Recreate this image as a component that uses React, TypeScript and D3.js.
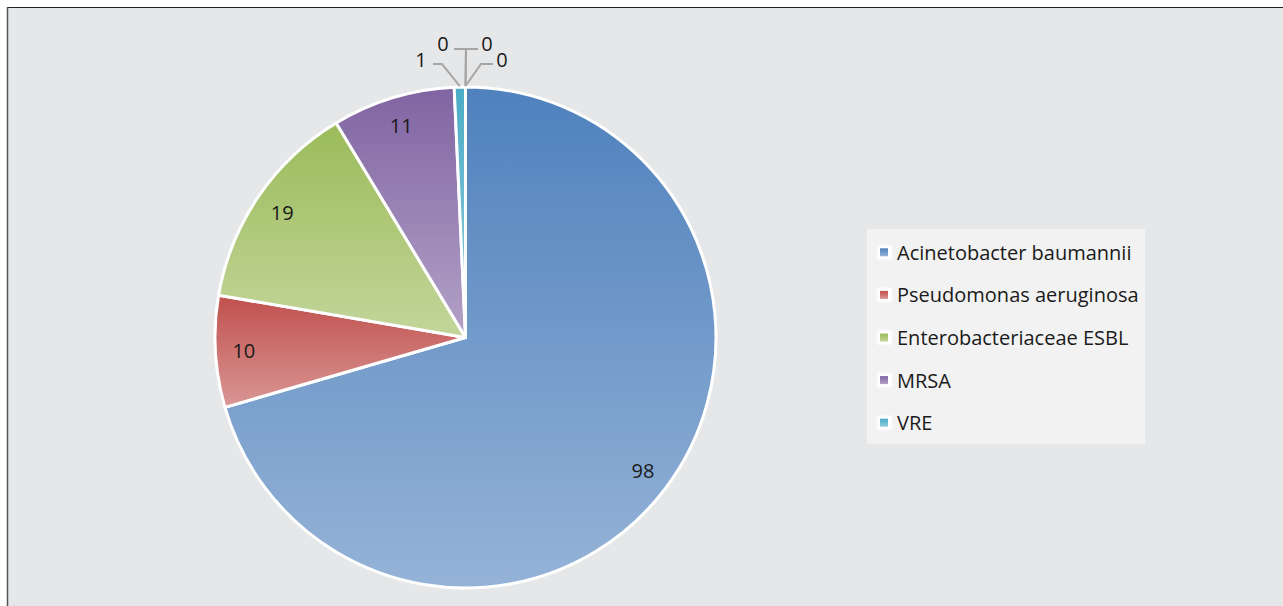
import React from "react";
import * as d3 from "d3";

const categories = [
  "Acinetobacter baumannii",
  "Pseudomonas aeruginosa",
  "Enterobacteriaceae ESBL",
  "MRSA",
  "VRE",
  "",
  "",
  "",
];
const values = [98, 10, 19, 11, 1, 0, 0, 0];
const baseColors = ["#4f81bd", "#c0504d", "#9bbb59", "#8064a2", "#4bacc6", "#f79646", "#2c4d75", "#772c2a"];
const lightColors = ["#95b3d7", "#d99694", "#c3d69b", "#b3a2c7", "#93cddd", "#fac090", "#8eb4e3", "#e6b9b8"];

// placement for labels of slices too thin to hold them (offsets from the pie top)
const outsideLayout = [
  null,
  null,
  null,
  null,
  { lx: -44.5, ly: -27.5, hx: -23.5, hy: -23, ex: -32.5 },
  { lx: -22.5, ly: -44, hx: 0.5, hy: -38, ex: -11.5 },
  { lx: 21.5, ly: -44, hx: 0.5, hy: -38, ex: 12.5 },
  { lx: 36.5, ly: -27.5, hx: 15.5, hy: -23, ex: 27.5 },
];

const W = 1283;
const H = 606;
const cx = 465.5;
const cy = 337.5;
const R = 250.5;
const FONT = "'Open Sans', sans-serif";
const FS = 20;

export default function App() {
  const pie = d3.pie<number>().sort(null).value((d) => d)(values);
  const arc = d3.arc<d3.PieArcDatum<number>>().innerRadius(0).outerRadius(R);
  const labelArc = d3.arc<d3.PieArcDatum<number>>().innerRadius(222).outerRadius(222);

  const legendItems = categories.map((c, i) => ({ c, i })).filter((d) => d.c !== "");
  const legendY = d3.scaleBand<number>().domain(legendItems.map((d) => d.i)).range([231, 444]);

  return (
    <svg
      width={W}
      height={H}
      style={{ position: "absolute", left: 0, top: 0, display: "block" }}
      fontFamily={FONT}
    >
      <defs>
        {values.map((_, i) => (
          <linearGradient key={i} id={`g${i}`} x1="0" y1="0" x2="0" y2="1">
            <stop offset="0" stopColor={baseColors[i]} />
            <stop offset="1" stopColor={lightColors[i]} />
          </linearGradient>
        ))}
        <filter id="glow" x="-50%" y="-50%" width="200%" height="200%">
          <feGaussianBlur stdDeviation="1" />
        </filter>
      </defs>
      <rect x={0} y={0} width={W} height={H} fill="#ffffff" />
      <rect x={7} y={7} width={W} height={H} fill="#e6e7e8" />
      <line x1={7} y1={7.5} x2={W} y2={7.5} stroke="#222" strokeWidth={1.2} />
      <line x1={7.5} y1={7} x2={7.5} y2={H} stroke="#555" strokeWidth={1.5} />

      <g transform={`translate(${cx},${cy})`}>
        {pie.map((d, i) =>
          d.endAngle - d.startAngle > 0 ? (
            <path key={i} d={arc(d) || ""} fill={`url(#g${i})`} stroke="#ffffff" strokeWidth={3} strokeLinejoin="round" />
          ) : null
        )}
        {pie.map((d, i) => {
          const lay = outsideLayout[i];
          if (lay) {
            const a = (d.startAngle + d.endAngle) / 2;
            const px = (R + 1) * Math.sin(a);
            const py = -(R + 1) * Math.cos(a);
            const top = -R;
            return (
              <g key={i}>
                <polyline
                  points={`${px},${py} ${lay.hx},${top + lay.hy} ${lay.ex},${top + lay.hy}`}
                  fill="none"
                  stroke="#a6a6a6"
                  strokeWidth={2}
                />
                <text x={lay.lx} y={top + lay.ly} textAnchor="middle" dominantBaseline="central" fontSize={FS} fill="#1a1a1a">
                  {values[i]}
                </text>
              </g>
            );
          }
          const [x, y] = labelArc.centroid(d);
          return (
            <text key={i} x={x} y={y} textAnchor="middle" dominantBaseline="central" fontSize={FS} fill="#1a1a1a">
              {values[i]}
            </text>
          );
        })}
      </g>

      <rect x={867} y={229} width={278} height={215} fill="#f2f2f2" />
      {legendItems.map((d) => {
        const y = (legendY(d.i) || 0) + legendY.bandwidth() / 2;
        return (
          <g key={d.i}>
            <rect x={877} y={y - 7} width={15} height={14} fill="#ffffff" filter="url(#glow)" />
            <rect x={880} y={y - 4} width={8} height={8} fill={`url(#g${d.i})`} />
            <text x={897} y={y} dominantBaseline="central" fontSize={FS} fill="#1a1a1a">
              {d.c}
            </text>
          </g>
        );
      })}
    </svg>
  );
}
